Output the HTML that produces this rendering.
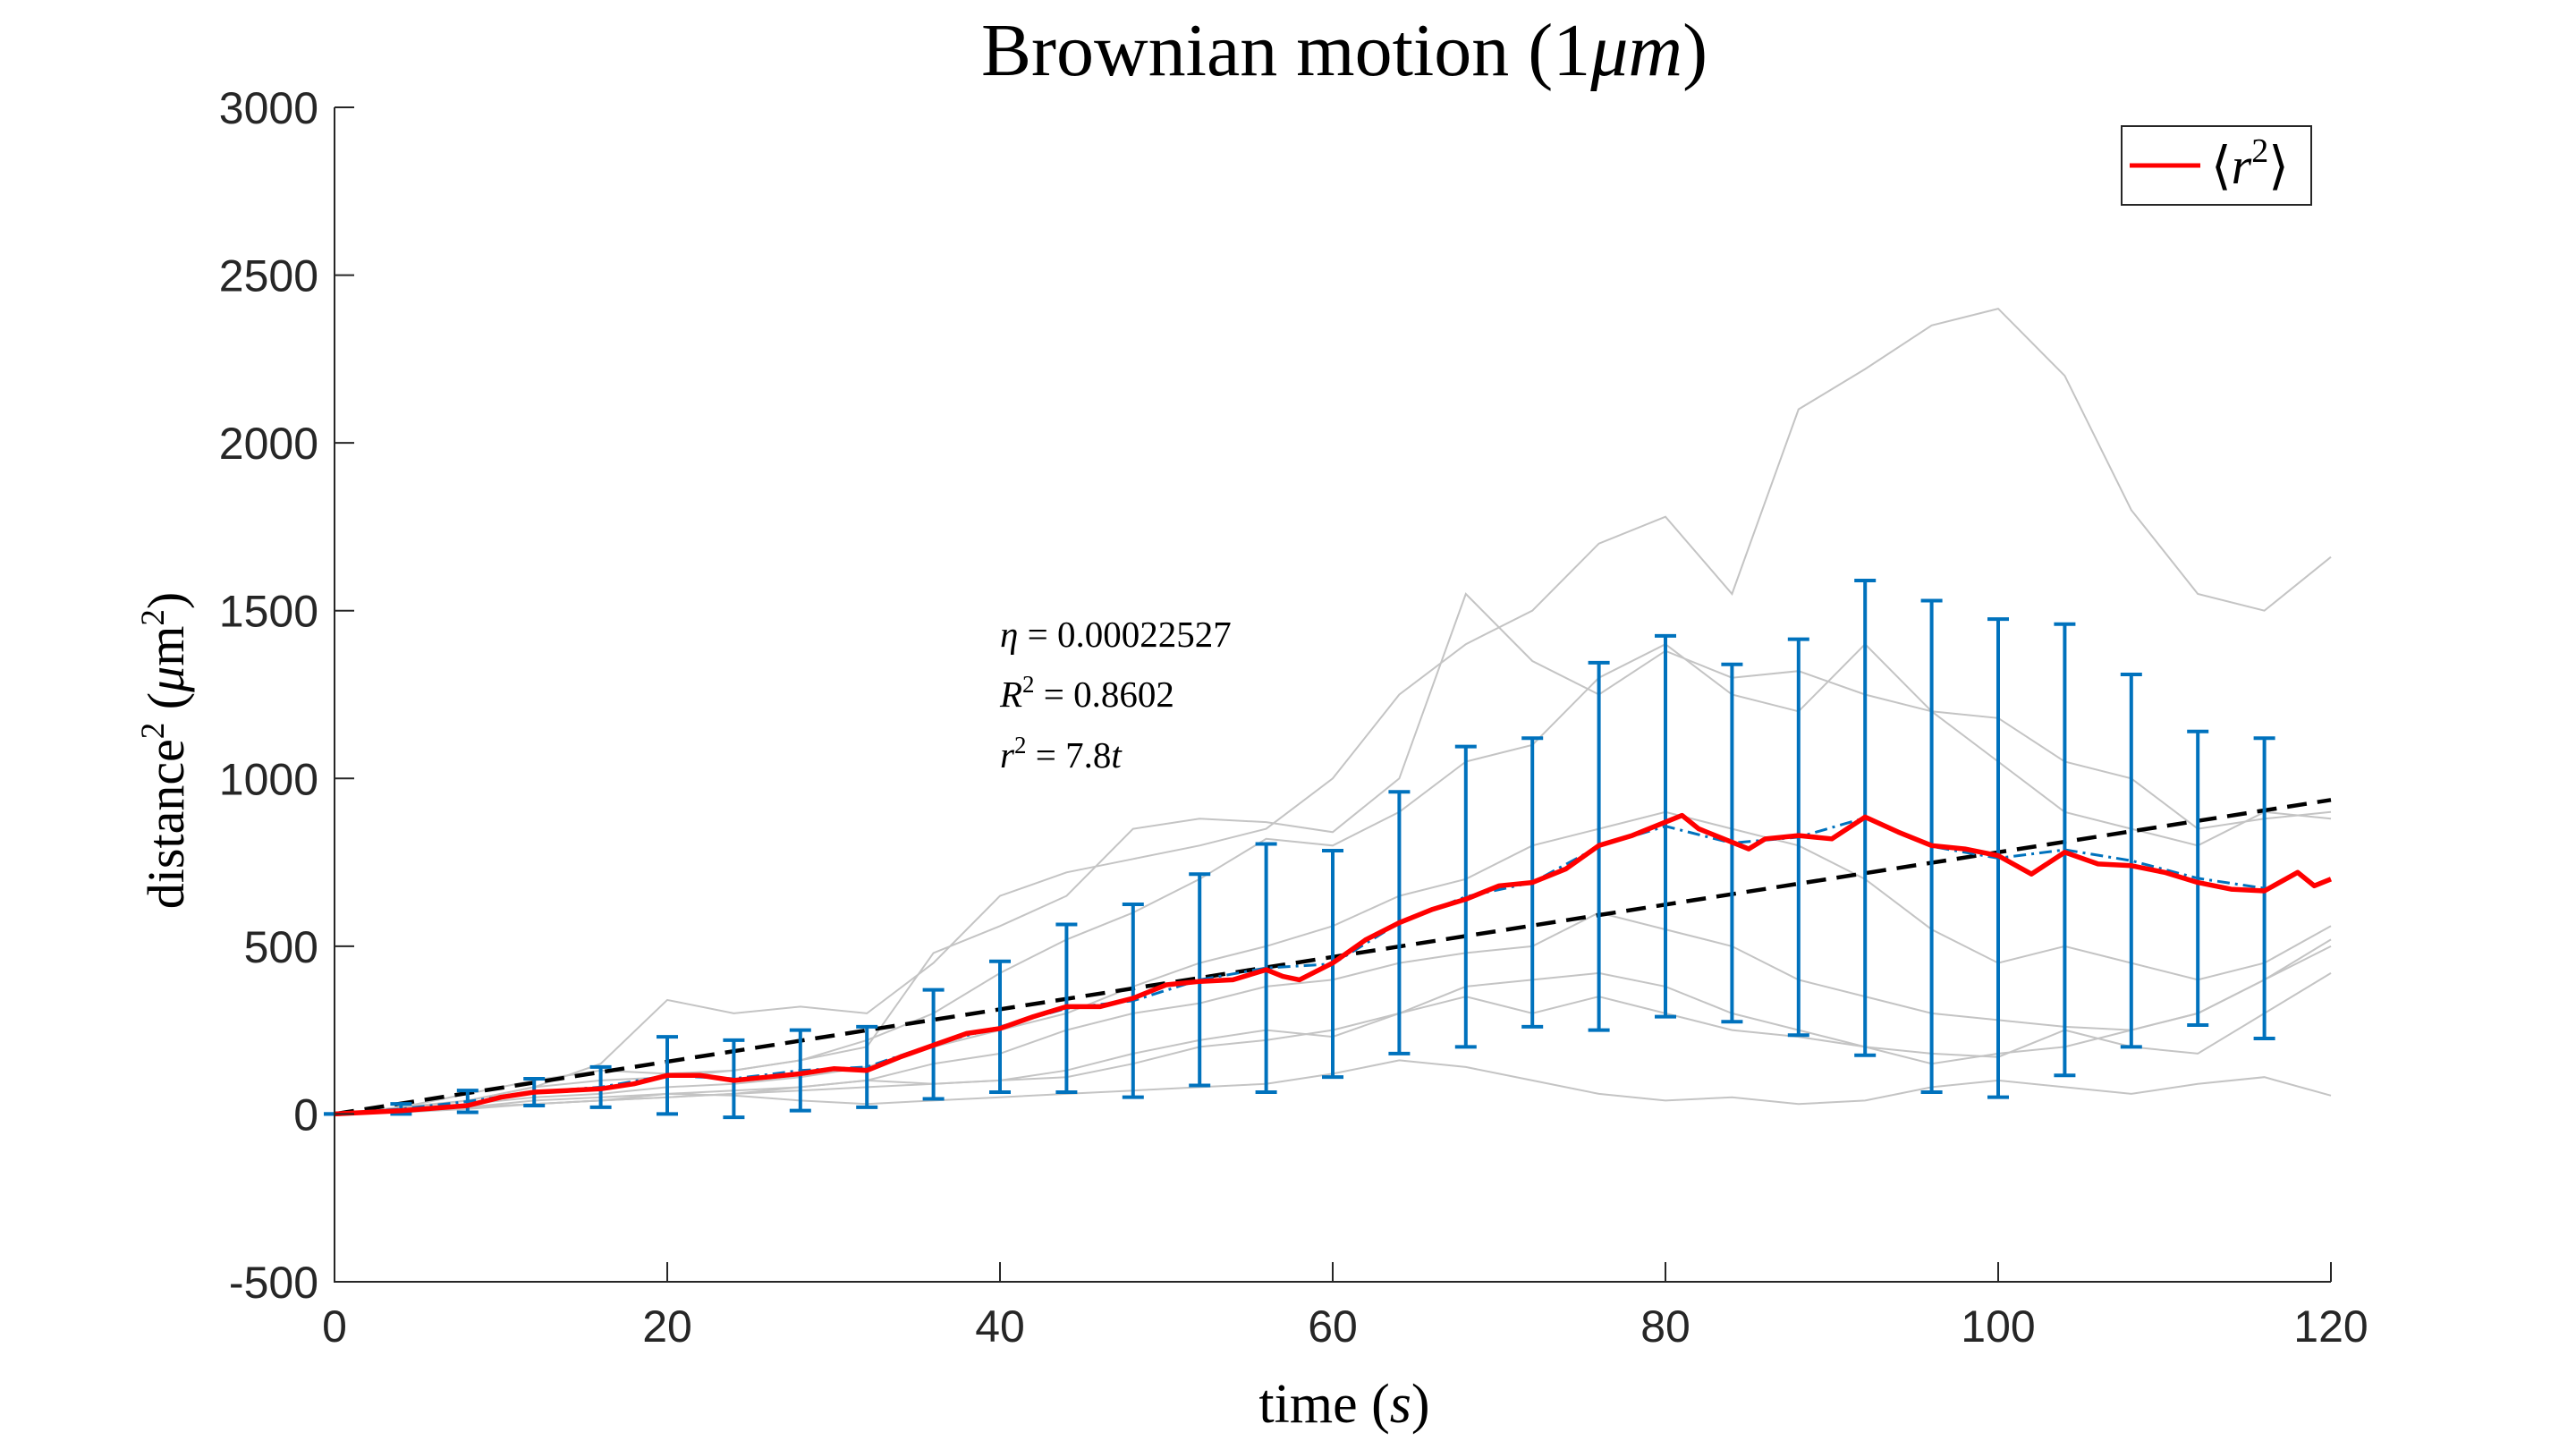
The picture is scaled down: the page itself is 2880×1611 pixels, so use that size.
<!DOCTYPE html>
<html><head><meta charset="utf-8"><style>
html,body{margin:0;padding:0;background:#fff}
svg{display:block}
.tick{font-family:"Liberation Sans",sans-serif;font-size:50px;fill:#262626}
.serif{font-family:"Liberation Serif","DejaVu Serif",serif;fill:#000}
</style></head><body>
<svg id="chart" width="2880" height="1611" viewBox="0 0 2880 1611" xmlns="http://www.w3.org/2000/svg">
<rect width="2880" height="1611" fill="#fff"/>
<text class="serif" x="1503" y="84" font-size="84" text-anchor="middle">Brownian motion (1<tspan font-style="italic">μm</tspan>)</text>
<g id="traces"></g>
<g id="fit"></g>
<g id="errs"></g>
<g id="mean"></g>
<g id="axes"></g>
<g class="serif" font-size="41">
<text x="1118" y="723"><tspan font-style="italic">η</tspan> = 0.00022527</text>
<text x="1118" y="790"><tspan font-style="italic">R</tspan><tspan font-size="27" dy="-16">2</tspan><tspan dy="16"> = 0.8602</tspan></text>
<text x="1118" y="858"><tspan font-style="italic">r</tspan><tspan font-size="27" dy="-16">2</tspan><tspan dy="16"> = 7.8</tspan><tspan font-style="italic">t</tspan></text>
</g>
<text class="serif" x="1503" y="1590" font-size="62" text-anchor="middle">time (<tspan font-style="italic">s</tspan>)</text>
<text class="serif" font-size="58" text-anchor="middle" transform="translate(205,839) rotate(-90)">distance<tspan font-size="37" dy="-22">2</tspan><tspan dy="22"> (</tspan><tspan font-style="italic">μ</tspan>m<tspan font-size="37" dy="-22">2</tspan><tspan dy="22">)</tspan></text>
<g>
<rect x="2372" y="141" width="212" height="88" fill="#fff" stroke="#262626" stroke-width="2"/>
<line x1="2381" y1="185" x2="2460" y2="185" stroke="#ff0000" stroke-width="5"/>
<text class="serif" x="2472" y="205" font-size="58">⟨<tspan font-style="italic">r</tspan><tspan font-size="38" dy="-24">2</tspan><tspan dy="24">⟩</tspan></text>
</g>
</svg>
<script>
const xTicks=[0,20,40,60,80,100,120];
const yTicks=[-500,0,500,1000,1500,2000,2500,3000];
const traceT=[0,4,8,12,16,20,24,28,32,36,40,44,48,52,56,60,64,68,72,76,80,84,88,92,96,100,104,108,112,116,120];
const trace1=[0,20,40,80,150,340,300,320,300,450,650,720,760,800,850,1000,1250,1400,1500,1700,1780,1550,2100,2220,2350,2400,2200,1800,1550,1500,1660];
const trace2=[0,20,60,100,130,120,130,160,200,480,560,650,850,880,870,840,1000,1550,1350,1250,1380,1300,1320,1250,1200,1180,1050,1000,850,880,900];
const trace3=[0,15,40,80,100,110,130,160,220,300,420,520,600,700,820,800,900,1050,1100,1300,1400,1250,1200,1400,1200,1050,900,850,800,900,880];
const trace4=[0,10,30,50,60,80,90,110,140,200,250,300,380,450,500,560,650,700,800,850,900,850,800,700,550,450,500,450,400,450,560];
const trace5=[0,10,20,30,40,50,60,80,100,150,180,250,300,330,380,400,450,480,500,600,550,500,400,350,300,280,260,250,300,400,520];
const trace6=[0,5,15,30,40,60,70,80,100,90,100,130,180,220,250,230,300,350,300,350,300,250,230,200,180,170,250,200,180,300,420];
const trace7=[0,10,20,40,50,60,55,40,30,40,50,60,70,80,90,120,160,140,100,60,40,50,30,40,80,100,80,60,90,110,55];
const trace8=[0,10,20,30,40,50,60,70,80,90,100,110,150,200,220,250,300,380,400,420,380,300,250,200,150,180,200,250,300,400,500];
const errT=[0,4,8,12,16,20,24,28,32,36,40,44,48,52,56,60,64,68,72,76,80,84,88,92,96,100,104,108,112,116];
const errUpper=[0,30,70,105,140,230,220,250,260,370,455,565,625,715,805,785,960,1095,1120,1345,1425,1340,1415,1590,1530,1475,1460,1310,1140,1120];
const errLower=[0,0,5,25,20,0,-10,10,20,45,65,65,50,85,65,110,180,200,260,250,290,275,235,175,65,50,115,200,265,225];
const meanT=[0,4,8,10,12,16,18,20,22,24,26,28,30,32,34,36,38,40,42,44,46,48,50,52,54,56,57,58,60,62,64,66,68,70,72,74,76,78,80,81,82,84,85,86,88,90,92,94,96,98,100,102,104,106,108,110,112,114,116,118,119,120];
const meanV=[0,10,25,50,65,75,90,115,115,100,110,120,135,130,170,205,240,255,290,320,320,345,385,395,400,430,410,400,450,520,570,610,640,680,690,730,800,830,870,890,850,810,790,820,830,820,885,840,800,790,770,715,780,745,740,720,690,670,665,720,680,700];
const fitSlope=7.8;

const NS='http://www.w3.org/2000/svg';
const X0=374,X1=2606,Y0=1433,Y1=120,xMin=0,xMax=120,yMin=-500,yMax=3000;
const sx=v=>X0+(v-xMin)/(xMax-xMin)*(X1-X0);
const sy=v=>Y0-(v-yMin)/(yMax-yMin)*(Y0-Y1);
function mk(tag,attrs,parent){const e=document.createElementNS(NS,tag);for(const k in attrs)e.setAttribute(k,attrs[k]);parent.appendChild(e);return e;}
const pts=(ts,vs)=>ts.map((t,i)=>sx(t).toFixed(1)+','+sy(vs[i]).toFixed(1)).join(' ');

const gT=document.getElementById('traces');
[trace1,trace2,trace3,trace4,trace5,trace6,trace7,trace8].forEach((tr,i)=>{
  const p=mk('polyline',{points:pts(traceT,tr),fill:'none',stroke:'#c4c4c4','stroke-width':2},gT);
  
  
});
const gF=document.getElementById('fit');
const fl=mk('line',{x1:sx(0),y1:sy(0),x2:sx(120),y2:sy(fitSlope*120),stroke:'#000','stroke-width':4.5,'stroke-dasharray':'22 12'},gF);



const gE=document.getElementById('errs');
const mids=errT.map((t,i)=>(errUpper[i]+errLower[i])/2);
const ml=mk('polyline',{points:pts(errT,mids),fill:'none',stroke:'#0072bd','stroke-width':3,'stroke-dasharray':'14 6 3 6'},gE);


errT.forEach((t,i)=>{
  const x=sx(t),yt=sy(errUpper[i]),yb=sy(errLower[i]);
  const g=mk('g',{},gE);
  
  
  mk('line',{x1:x,y1:yt,x2:x,y2:yb,stroke:'#0072bd','stroke-width':4},g);
  mk('line',{x1:x-12,y1:yt,x2:x+12,y2:yt,stroke:'#0072bd','stroke-width':4},g);
  mk('line',{x1:x-12,y1:yb,x2:x+12,y2:yb,stroke:'#0072bd','stroke-width':4},g);
});
const gM=document.getElementById('mean');
const mp=mk('polyline',{points:pts(meanT,meanV),fill:'none',stroke:'#ff0000','stroke-width':5.5,'stroke-linejoin':'round'},gM);



const gA=document.getElementById('axes');
const ax=mk('path',{d:`M${X0},${Y1} L${X0},${Y0} L${X1},${Y0}`,fill:'none',stroke:'#262626','stroke-width':2},gA);


xTicks.forEach(t=>{
  const x=sx(t);
  mk('line',{x1:x,y1:Y0,x2:x,y2:Y0-22,stroke:'#262626','stroke-width':2},gA);
  const tx=mk('text',{x:x,y:Y0+67,'text-anchor':'middle',class:'tick'},gA);
  tx.textContent=t;
  
  
});
yTicks.forEach(v=>{
  const y=sy(v);
  mk('line',{x1:X0,y1:y,x2:X0+22,y2:y,stroke:'#262626','stroke-width':2},gA);
  const ty=mk('text',{x:X0-18,y:y+18,'text-anchor':'end',class:'tick'},gA);
  ty.textContent=v;
  
  
});
</script>
</body></html>
